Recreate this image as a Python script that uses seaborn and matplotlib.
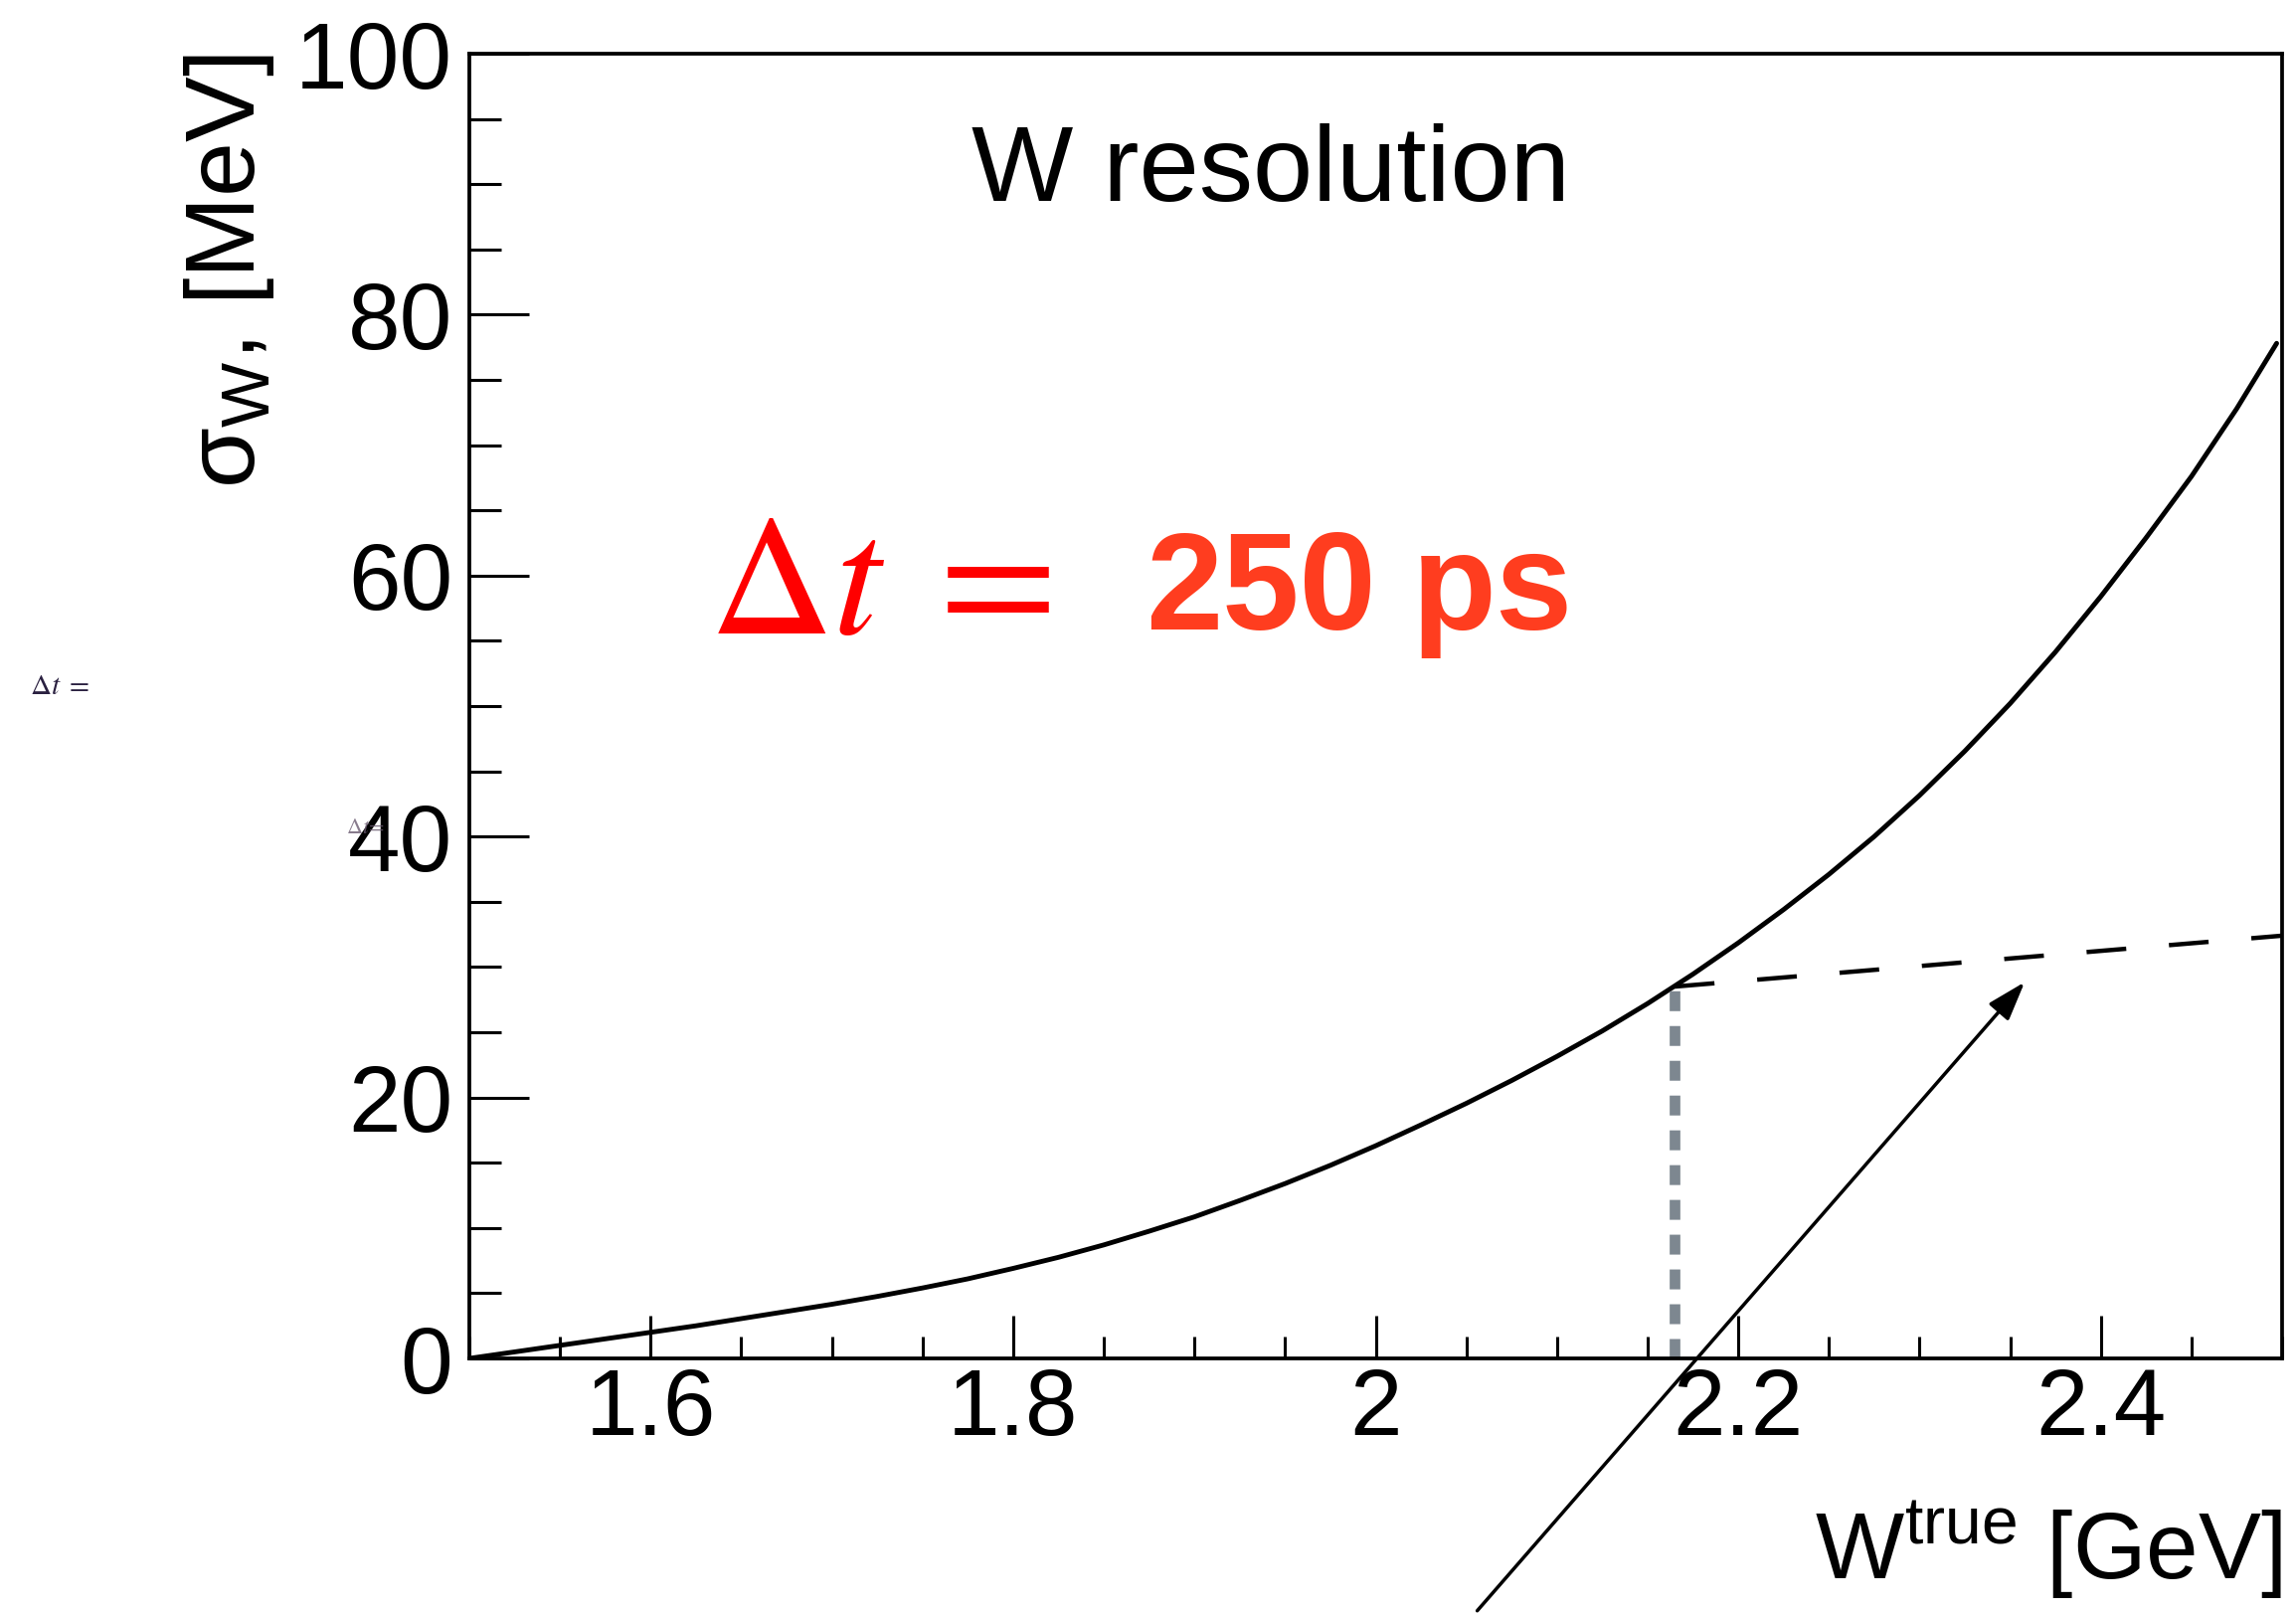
import numpy as np
import pandas as pd
import matplotlib
matplotlib.use("Agg")
import matplotlib.pyplot as plt
from matplotlib.ticker import MultipleLocator, FixedLocator, FixedFormatter
from matplotlib.patches import FancyArrowPatch
import seaborn as sns

# ---- data ----
w_true = [1.500, 1.525, 1.550, 1.575, 1.600, 1.625, 1.650, 1.675, 1.700, 1.725,
          1.750, 1.775, 1.800, 1.825, 1.850, 1.875, 1.900, 1.925, 1.950, 1.975,
          2.000, 2.025, 2.050, 2.075, 2.100, 2.125, 2.150, 2.175, 2.200, 2.225,
          2.250, 2.275, 2.300, 2.325, 2.350, 2.375, 2.400, 2.425, 2.450, 2.475,
          2.497]
sigma_w = [0.0, 0.5, 1.0, 1.5, 2.0, 2.5, 3.05, 3.6, 4.15, 4.75,
           5.4, 6.1, 6.9, 7.75, 8.7, 9.75, 10.85, 12.1, 13.4, 14.8,
           16.3, 17.9, 19.55, 21.3, 23.15, 25.1, 27.2, 29.45, 31.85, 34.4,
           37.1, 40.0, 43.15, 46.55, 50.2, 54.15, 58.4, 62.9, 67.6, 72.8,
           77.8]
dashed_x = [2.165, 2.50]
dashed_y = [28.5, 32.4]
marker_x = [2.165, 2.165]
marker_y = [0.0, 28.5]
arrow_tail = (2.055, -19.5)
arrow_head = (2.359, 29.0)
xtick_vals = [1.6, 1.8, 2.0, 2.2, 2.4]
xtick_labels = ["1.6", "1.8", "2", "2.2", "2.4"]
ytick_vals = [0, 20, 40, 60, 80, 100]
ytick_labels = ["0", "20", "40", "60", "80", "100"]

sns.set_theme(style="white")
plt.rcParams["font.family"] = ["Liberation Sans", "DejaVu Sans"]
plt.rcParams["mathtext.fontset"] = "custom"
plt.rcParams["mathtext.rm"] = "Liberation Sans"
plt.rcParams["mathtext.it"] = "Liberation Sans:italic"
plt.rcParams["mathtext.bf"] = "Liberation Sans:bold"
for key in ["text.color", "axes.labelcolor", "xtick.color", "ytick.color",
            "xtick.labelcolor", "ytick.labelcolor"]:
    plt.rcParams[key] = "black"

fig = plt.figure(figsize=(23.09, 16.22), dpi=100)
ax = fig.add_axes([472 / 2309, (1622 - 1366) / 1622, (2295 - 472) / 2309, (1366 - 54) / 1622])

df = pd.DataFrame({"w": w_true, "s": sigma_w})
sns.lineplot(data=df, x="w", y="s", ax=ax, color="black", lw=3.5, sort=False)

ax.plot(dashed_x, dashed_y, color="black", lw=3.2, ls=(0, (9.0, 9.7)))
ax.plot(marker_x, marker_y, color="#7d8790", lw=7.7, ls=(0, (1.87, 1.4)),
        solid_capstyle="butt", dash_capstyle="butt")

arr = FancyArrowPatch(arrow_tail, arrow_head, transform=ax.transData,
                      arrowstyle="-|>,head_length=1.2,head_width=0.4",
                      mutation_scale=20, lw=2.5, color="black", clip_on=False)
ax.add_patch(arr)

ax.set_xlim(1.5, 2.5)
ax.set_ylim(0, 100)
ax.xaxis.set_major_locator(FixedLocator(xtick_vals))
ax.xaxis.set_major_formatter(FixedFormatter(xtick_labels))
ax.yaxis.set_major_locator(FixedLocator(ytick_vals))
ax.yaxis.set_major_formatter(FixedFormatter(ytick_labels))
ax.xaxis.set_minor_locator(MultipleLocator(0.05))
ax.yaxis.set_minor_locator(MultipleLocator(5))

ax.tick_params(axis="x", which="major", direction="in", length=31, width=2.2,
               pad=6, labelsize=68, bottom=True, top=False, color="black",
               labelcolor="black")
ax.tick_params(axis="x", which="minor", direction="in", length=16, width=2.2,
               bottom=True, top=False, color="black")
ax.tick_params(axis="y", which="major", direction="in", length=43, width=2.2,
               pad=12, labelsize=68, left=True, right=False, color="black",
               labelcolor="black")
ax.tick_params(axis="y", which="minor", direction="in", length=23, width=2.2,
               left=True, right=False, color="black")
for sp in ax.spines.values():
    sp.set_visible(True)
    sp.set_color("black")
    sp.set_linewidth(2.7)

ax.set_xlabel(r"W$^{\mathrm{true}}$ [GeV]", fontsize=68, loc="right", color="black")
ax.xaxis.set_label_coords(1.0, -0.108)
ax.set_ylabel(r"$\mathrm{σ}_{\mathrm{W}}$, [MeV]", fontsize=71, loc="top", color="black")
ax.yaxis.set_label_coords(-0.1065, 1.0)

ax.text(1.942, 88.7, "W resolution", fontsize=78, ha="center", va="baseline",
        color="black")
ax.text(1.6322, 55.6, r"$\Delta t\;=$", fontsize=124, ha="left", va="baseline",
        color="#ff0000", math_fontfamily="stix")
ax.text(1.5 + (1152 - 472) / 1823, 55.9, "250", fontsize=100, fontweight="bold",
        ha="left", va="baseline", color="#ff3d1f")
ax.text(1.5 + (1420 - 472) / 1823, 55.9, "ps", fontsize=100, fontweight="bold",
        ha="left", va="baseline", color="#ff3d1f")

fig.text(60 / 2309, 1 - 690 / 1622, r"$\Delta t\;=$", fontsize=21, ha="center",
         va="center", color="#2a2040", math_fontfamily="stix")
fig.text(368 / 2309, 1 - 833 / 1622, r"$\Delta t\!=$", fontsize=16, ha="center",
         va="center", color="#6a5a70", math_fontfamily="stix", alpha=0.8)

ax.set_facecolor("white")
fig.patch.set_facecolor("white")
fig.savefig("out.png", dpi=100)
